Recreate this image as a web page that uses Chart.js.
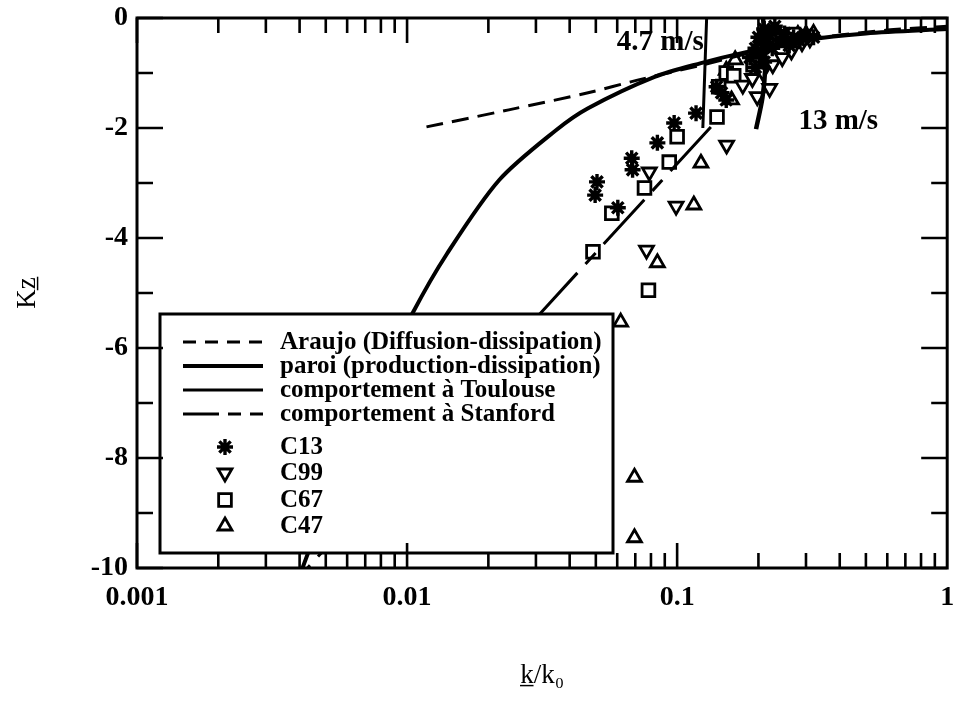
<!DOCTYPE html>
<html lang="fr">
<head>
<meta charset="UTF-8">
<title>Kz en fonction de k/k0</title>
<script src="https://cdn.jsdelivr.net/npm/chart.js"></script>
<style>
  body { margin: 0; background: #fff; }
  canvas { display: block; }
</style>
</head>
<body>
<canvas id="kzChart" width="959" height="701"></canvas>
<script>
// axes
const xTickValues = [0.001, 0.01, 0.1, 1];
const xTickLabels = ['0.001', '0.01', '0.1', '1'];
const yTickValues = [-10, -8, -6, -4, -2, 0];

// courbes
const araujoX = [0.0118, 0.0238, 0.0468, 0.0713, 0.12, 0.2, 0.35, 0.6, 1];
const araujoY = [-1.98, -1.67, -1.36, -1.13, -0.87, -0.6, -0.35, -0.22, -0.15];

const paroiX = [0.0041, 0.0065, 0.0105, 0.014, 0.0219, 0.0356, 0.0468, 0.0825, 0.1225, 0.18, 0.3, 0.5, 1];
const paroiY = [-10, -7.4, -5.36, -4.3, -2.95, -2.04, -1.64, -1.07, -0.82, -0.62, -0.4, -0.28, -0.2];

// Toulouse : 4.7 m/s et 13 m/s
const toul47X = [0.1286, 0.1245];
const toul47Y = [0, -2.0];
const toul13X = [0.196, 0.207, 0.212, 0.211, 0.208];
const toul13Y = [-2.02, -1.45, -0.9, -0.4, 0];

const stanfordX = [0.1333, 0.00428];
const stanfordY = [-1.98, -10];

// mesures
const c13X = [0.0505, 0.0497, 0.0603, 0.0679, 0.0684, 0.0845, 0.0975, 0.1175, 0.14, 0.146, 0.152, 0.186, 0.195, 0.2, 0.205, 0.21, 0.215, 0.22, 0.225, 0.23, 0.24, 0.25, 0.26, 0.27, 0.285, 0.3, 0.32, 0.21, 0.195];
const c13Y = [-2.98, -3.22, -3.45, -2.55, -2.76, -2.27, -1.91, -1.73, -1.25, -1.36, -1.49, -0.72, -0.55, -0.35, -0.62, -0.2, -0.45, -0.3, -0.55, -0.15, -0.4, -0.28, -0.5, -0.35, -0.42, -0.3, -0.35, -0.8, -0.9];

const c99X = [0.0789, 0.0991, 0.077, 0.1525, 0.198, 0.22, 0.175, 0.19, 0.207, 0.226, 0.245, 0.265, 0.29, 0.31];
const c99Y = [-2.8, -3.42, -4.22, -2.31, -1.43, -1.28, -1.22, -1.1, -0.98, -0.85, -0.72, -0.6, -0.45, -0.38];

const c67X = [0.0488, 0.0573, 0.0757, 0.0935, 0.1, 0.0783, 0.1405, 0.1425, 0.152, 0.162, 0.191, 0.205, 0.225, 0.245, 0.27];
const c67Y = [-4.25, -3.55, -3.09, -2.62, -2.16, -4.95, -1.8, -1.25, -1.0, -1.05, -0.85, -0.5, -0.4, -0.35, -0.3];

const c47X = [0.0618, 0.0695, 0.0695, 0.0845, 0.1153, 0.1225, 0.159, 0.152, 0.164, 0.2, 0.24, 0.26, 0.28, 0.3, 0.32];
const c47Y = [-5.53, -8.35, -9.45, -4.45, -3.4, -2.64, -1.49, -0.95, -0.76, -0.7, -0.45, -0.35, -0.3, -0.3, -0.28];

// étiquettes dans le graphe
const notes = [
  { text: '4.7 m/s', x: 0.0866, y: -0.45 },
  { text: '13 m/s', x: 0.395, y: -1.89 }
];

const pts = (xs, ys) => xs.map((v, i) => ({ x: v, y: ys[i] }));

const lineDs = (label, xs, ys, width, dash, legendDash) => ({
  label, data: pts(xs, ys), showLine: true, pointRadius: 0,
  borderColor: '#000', borderWidth: width, borderDash: dash, legendDash,
  tension: 0.3, fill: false
});

const markDs = (label, xs, ys, style, radius, rotation, width) => ({
  label, data: pts(xs, ys), showLine: false,
  pointStyle: style, pointRadius: radius, pointRotation: rotation || 0,
  pointBorderWidth: width || 2.8, pointBorderColor: '#000', pointBackgroundColor: '#fff'
});

const toul13 = lineDs('Toulouse 13 m/s', toul13X, toul13Y, 4.5, []);
toul13.hideInLegend = true;

const datasets = [
  lineDs('Araujo (Diffusion-dissipation)', araujoX, araujoY, 3, [17, 9], [13, 9]),
  lineDs('paroi (production-dissipation)', paroiX, paroiY, 4, []),
  lineDs('comportement à Toulouse', toul47X, toul47Y, 3, []),
  lineDs('comportement à Stanford', stanfordX, stanfordY, 3, [60, 12, 15, 12], [36, 9, 13, 9, 13]),
  toul13,
  markDs('C13', c13X, c13Y, 'star', 8, 0, 3.4),
  markDs('C99', c99X, c99Y, 'triangle', 8, 180),
  markDs('C67', c67X, c67Y, 'rect', 9),
  markDs('C47', c47X, c47Y, 'triangle', 8)
];

// cadre + graduations internes
const framePlugin = {
  id: 'frame',
  afterDraw(chart) {
    const { ctx, chartArea: a, scales: { x, y } } = chart;
    ctx.save();
    ctx.strokeStyle = '#000';
    ctx.lineWidth = 2.6;
    ctx.beginPath();
    for (let v = -10; v <= 0; v++) {
      const py = y.getPixelForValue(v);
      const len = v % 2 === 0 ? 26 : 16;
      ctx.moveTo(a.left, py); ctx.lineTo(a.left + len, py);
      ctx.moveTo(a.right, py); ctx.lineTo(a.right - len, py);
    }
    for (let d = -3; d < 0; d++) {
      for (let m = 1; m <= 9; m++) {
        const px = x.getPixelForValue(m * Math.pow(10, d));
        const len = m === 1 ? 25 : 15;
        ctx.moveTo(px, a.bottom); ctx.lineTo(px, a.bottom - len);
        ctx.moveTo(px, a.top); ctx.lineTo(px, a.top + len);
      }
    }
    ctx.stroke();
    ctx.lineWidth = 3;
    ctx.strokeRect(a.left, a.top, a.right - a.left, a.bottom - a.top);

    ctx.fillStyle = '#000';
    ctx.font = 'bold 29px "Liberation Serif"';
    ctx.textAlign = 'center';
    ctx.textBaseline = 'middle';
    notes.forEach(n => ctx.fillText(n.text, x.getPixelForValue(n.x), y.getPixelForValue(n.y)));
    ctx.restore();
  }
};

// légende encadrée
const legendPlugin = {
  id: 'boxLegend',
  afterDatasetsDraw(chart) {
    const { ctx } = chart;
    const box = { left: 160, top: 314, right: 613, bottom: 553 };
    const lineRows = [342, 366, 390, 414];
    const markRows = [447, 473, 500, 526];
    ctx.save();
    ctx.fillStyle = '#fff';
    ctx.fillRect(box.left, box.top, box.right - box.left, box.bottom - box.top);
    ctx.strokeStyle = '#000';
    ctx.lineWidth = 3;
    ctx.strokeRect(box.left, box.top, box.right - box.left, box.bottom - box.top);

    ctx.font = 'bold 25px "Liberation Serif"';
    ctx.textAlign = 'left';
    ctx.textBaseline = 'middle';
    let li = 0, mi = 0;
    chart.data.datasets.forEach(ds => {
      if (ds.hideInLegend) return;
      ctx.fillStyle = '#000';
      if (ds.showLine) {
        const ry = lineRows[li++];
        ctx.lineWidth = ds.borderWidth;
        ctx.setLineDash(ds.legendDash || ds.borderDash || []);
        ctx.beginPath();
        ctx.moveTo(183, ry); ctx.lineTo(263, ry);
        ctx.stroke();
        ctx.setLineDash([]);
        ctx.fillText(ds.label, 280, ry + 1);
      } else {
        const ry = markRows[mi++];
        ctx.lineWidth = ds.pointBorderWidth;
        ctx.fillStyle = '#fff';
        Chart.helpers.drawPoint(ctx, {
          pointStyle: ds.pointStyle, rotation: ds.pointRotation,
          radius: ds.pointRadius, borderWidth: ds.pointBorderWidth
        }, 225, ry);
        ctx.fillStyle = '#000';
        ctx.fillText(ds.label, 280, ry + 1);
      }
    });
    ctx.restore();
  }
};

Chart.defaults.font.family = '"Liberation Serif", "Times New Roman", serif';
Chart.defaults.color = '#000';

new Chart(document.getElementById('kzChart'), {
  type: 'scatter',
  data: { datasets },
  options: {
    responsive: false,
    animation: false,
    layout: { padding: { top: 18, right: 3, left: 0, bottom: 0 } },
    plugins: { legend: { display: false }, tooltip: { enabled: false } },
    scales: {
      x: {
        type: 'logarithmic', min: 0.001, max: 1,
        afterBuildTicks: s => { s.ticks = xTickValues.map(v => ({ value: v })); },
        afterFit: s => { s.height = 133; s.paddingLeft = 0; s.paddingRight = 0; },
        ticks: {
          callback: (v, i) => xTickLabels[i], autoSkip: false, maxRotation: 0,
          font: { size: 28, weight: 'bold' }, padding: 13
        },
        grid: { display: false, drawTicks: false },
        border: { display: false },
        title: { display: true, text: 'k̲/k₀', font: { size: 27 }, padding: { top: 0, bottom: 9 } }
      },
      y: {
        min: -10, max: 0,
        afterBuildTicks: s => { s.ticks = yTickValues.map(v => ({ value: v })); },
        afterFit: s => { s.width = 137; s.paddingTop = 0; s.paddingBottom = 0; },
        ticks: { font: { size: 28, weight: 'bold' }, padding: 9 },
        grid: { display: false, drawTicks: false },
        border: { display: false },
        title: { display: true, text: 'Kz̲', font: { size: 27 }, padding: { top: 12, bottom: 0 } }
      }
    }
  },
  plugins: [legendPlugin, framePlugin]
});
</script>
</body>
</html>
